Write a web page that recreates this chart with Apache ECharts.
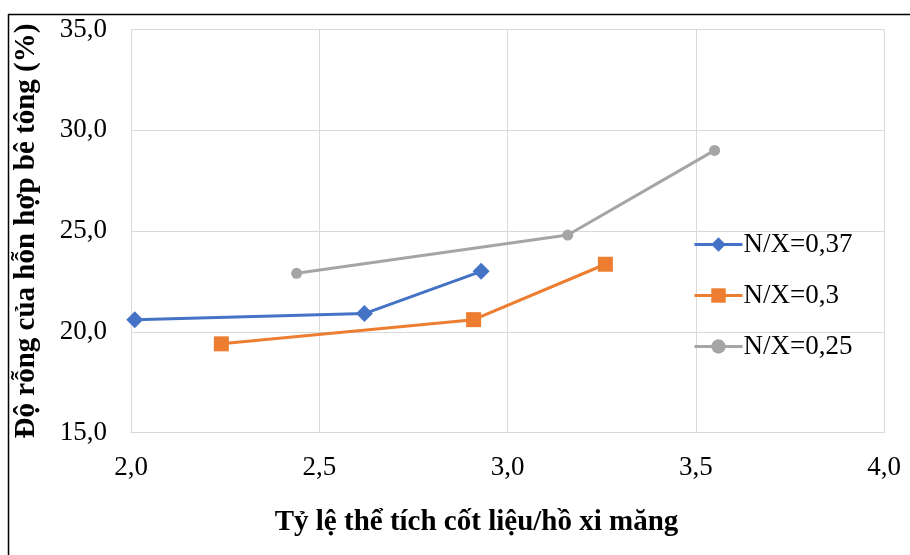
<!DOCTYPE html>
<html>
<head>
<meta charset="utf-8">
<script src="https://cdn.jsdelivr.net/npm/echarts@6/dist/echarts.min.js"></script>
<style>
  html, body { margin: 0; padding: 0; background: #fff; }
  #chart { width: 910px; height: 555px; }
</style>
</head>
<body>
<div id="chart"></div>
<script>
// Tỷ lệ thể tích cốt liệu/hồ xi măng vs độ rỗng (%)
const seriesNames = ['N/X=0,37', 'N/X=0,3', 'N/X=0,25'];
const ratio037 = [2.01, 2.62, 2.93];
const void037  = [20.6, 20.9, 23.0];
const ratio030 = [2.24, 2.91, 3.26];
const void030  = [19.4, 20.6, 23.35];
const ratio025 = [2.44, 3.16, 3.55];
const void025  = [22.9, 24.8, 29.0];
const xTicks = [2.0, 2.5, 3.0, 3.5, 4.0];
const yTicks = [15, 20, 25, 30, 35];

const colors = ['#4472C4', '#ED7D31', '#A5A5A5'];
const symbols = ['diamond', 'rect', 'circle'];
const symbolSizes = [17, 15, 11];
const FONT = '"Liberation Serif", "Times New Roman", serif';

function pairs(xs, ys) { return xs.map((x, i) => [x, ys[i]]); }
const dataSets = [pairs(ratio037, void037), pairs(ratio030, void030), pairs(ratio025, void025)];

const fmt = v => v.toFixed(1).replace('.', ',');

const chart = echarts.init(document.getElementById('chart'));
chart.setOption({
  animation: false,
  backgroundColor: '#fff',
  grid: { left: 131, right: 26, top: 29.5, bottom: 122.5, containLabel: false },
  xAxis: {
    type: 'value',
    min: xTicks[0], max: xTicks[xTicks.length - 1], interval: 0.5,
    axisLine: { show: true, lineStyle: { color: '#d9d9d9', width: 1 } },
    axisTick: { show: false },
    splitLine: { show: true, lineStyle: { color: '#d9d9d9', width: 1 } },
    axisLabel: { color: '#000', fontFamily: FONT, fontSize: 27, margin: 22, formatter: fmt },
    name: 'Tỷ lệ thể tích cốt liệu/hồ xi măng',
    nameLocation: 'middle', nameGap: 76,
    nameTextStyle: { color: '#000', fontFamily: FONT, fontSize: 29, fontWeight: 'bold', padding: [0, 62, 0, 0] }
  },
  yAxis: {
    type: 'value',
    min: yTicks[0], max: yTicks[yTicks.length - 1], interval: 5,
    axisLine: { show: true, lineStyle: { color: '#d9d9d9', width: 1 } },
    axisTick: { show: false },
    splitLine: { show: true, lineStyle: { color: '#d9d9d9', width: 1 } },
    axisLabel: { color: '#000', fontFamily: FONT, fontSize: 27, margin: 24, formatter: fmt },
    name: 'Độ rỗng của hỗn hợp bê tông (%)',
    nameLocation: 'middle', nameGap: 90, nameRotate: 90,
    nameTextStyle: { color: '#000', fontFamily: FONT, fontSize: 29, fontWeight: 'bold' }
  },
  legend: {
    orient: 'vertical',
    left: 693, top: 231,
    padding: 0,
    itemWidth: 48, itemHeight: 18, itemGap: 24,
    lineStyle: { width: 3 },
    textStyle: { color: '#000', fontFamily: FONT, fontSize: 27, padding: [0, 0, 0, -4] },
    data: seriesNames
  },
  series: seriesNames.map((name, i) => ({
    name, type: 'line',
    data: dataSets[i],
    symbol: symbols[i], symbolSize: symbolSizes[i],
    lineStyle: { color: colors[i], width: 3 },
    itemStyle: { color: colors[i] },
    z: 3 - i
  })),
  graphic: [
    { type: 'line', shape: { x1: 8, y1: 14.5, x2: 910, y2: 14.5 }, style: { stroke: '#000', lineWidth: 1.5 } },
    { type: 'line', shape: { x1: 8.5, y1: 14, x2: 8.5, y2: 555 }, style: { stroke: '#000', lineWidth: 1.5 } }
  ]
});
</script>
</body>
</html>
